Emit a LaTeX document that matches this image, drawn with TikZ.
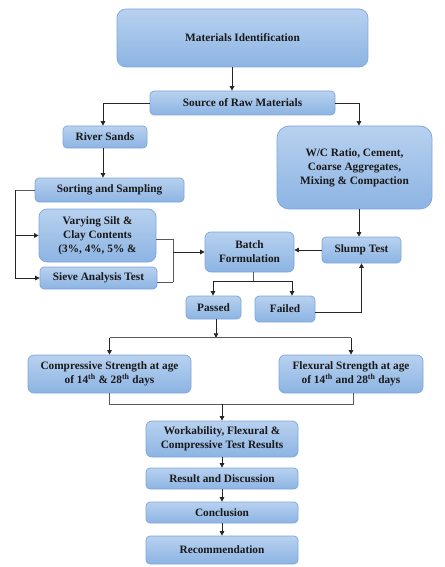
\documentclass[tikz,border=0pt]{standalone}
\usepackage{fontspec}
\setmainfont{Liberation Serif}
\usetikzlibrary{arrows.meta}
\definecolor{bdr}{RGB}{126,166,220}
\definecolor{ftop}{RGB}{184,209,239}
\definecolor{fbot}{RGB}{140,180,227}
\begin{document}
\begin{tikzpicture}[x=1pt,y=-1pt,
  box/.style={draw=bdr, line width=0.7pt, rounded corners=4pt,
    top color=ftop, bottom color=fbot,
    align=center, inner sep=1pt, text=black!90, font=\bfseries\fontsize{11.3}{14}\selectfont},
  arr/.style={-{Triangle[length=4.5pt,width=4.5pt]}, line width=0.8pt, black!85},
  ln/.style={line width=0.8pt, black!65}]
\useasboundingbox (0,0) rectangle (444,567);
\node[box, rounded corners=9pt, minimum width=251pt, minimum height=58pt] (mi) at (242.5,38) {Materials Identification};
\node[box, minimum width=185pt, minimum height=24pt] (src) at (242.5,103) {Source of Raw Materials};
\node[box, minimum width=84pt, minimum height=22pt] (river) at (105,137) {River Sands};
\node[box, rounded corners=12pt, minimum width=155pt, minimum height=83pt] (wc) at (354.5,167.5) {W/C Ratio, Cement,\\Coarse Aggregates,\\Mixing \& Compaction};
\node[box, minimum width=149pt, minimum height=24pt] (sort) at (109.5,190) {Sorting and Sampling};
\node[box, rounded corners=8pt, minimum width=117pt, minimum height=53pt] (vary) at (97.5,235.5) {Varying Silt \&\\Clay Contents\\(3\%, 4\%, 5\% \&};
\node[box, minimum width=117pt, minimum height=22pt] (sieve) at (98.5,278) {Sieve Analysis Test};
\node[box, rounded corners=6pt, minimum width=89pt, minimum height=40pt] (batch) at (249.5,252) {Batch\\Formulation};
\node[box, minimum width=79pt, minimum height=26pt] (slump) at (361.5,250) {Slump Test};
\node[box, minimum width=55pt, minimum height=23pt] (passed) at (213.5,307.5) {Passed};
\node[box, minimum width=60pt, minimum height=26pt] (failed) at (285,309) {Failed};
\node[box, rounded corners=6pt, minimum width=163pt, minimum height=38pt] (comp) at (109.5,374) {Compressive Strength at age\\of 14\textsuperscript{th} \& 28\textsuperscript{th} days};
\node[box, rounded corners=6pt, minimum width=144pt, minimum height=38pt] (flex) at (351,374) {Flexural Strength at age\\of 14\textsuperscript{th} and 28\textsuperscript{th} days};
\node[box, rounded corners=6pt, minimum width=152pt, minimum height=36pt] (work) at (222,439) {Workability, Flexural \&\\Compressive Test Results};
\node[box, minimum width=152pt, minimum height=21pt] (res) at (222,478.5) {Result and Discussion};
\node[box, minimum width=152pt, minimum height=21pt] (conc) at (222,512.5) {Conclusion};
\node[box, minimum width=152pt, minimum height=28pt] (rec) at (222,550) {Recommendation};
% connectors
\draw[arr] ([xshift=-10.5pt]mi.south) -- ([xshift=-10.5pt]mi.south |- src.north);
\draw[arr] (src.west) -| ([xshift=-2pt]river.north);
\draw[arr] (src.east) -| ([xshift=4.5pt]wc.north);
\draw[arr] ([xshift=-2pt]river.south) -- ([xshift=-2pt]river.south |- sort.north);
\draw[ln] (sort.west) -- ++(-19,0) coordinate (lb);
\draw[arr] (lb) |- (sieve.west);
\draw[arr] (lb |- vary.west) -- (vary.west);
\coordinate (rb) at (173,252);
\draw[ln] ([yshift=-3.5pt]vary.east) -| ([yshift=-4pt]rb |- sieve.east);
\draw[ln] ([yshift=-4pt]sieve.east) -- ([yshift=-4pt]rb |- sieve.east);
\draw[arr] (rb) -- (batch.west);
\draw[arr] ([xshift=4.5pt]wc.south) -- ([xshift=4.5pt]wc.south |- slump.north);
\draw[arr] (slump.west) -- (slump.west -| batch.east);
\draw[ln] ([xshift=3.5pt]batch.south) -- ++(0,9) coordinate (bs);
\draw[arr] (bs) -| ([xshift=-0.5pt]passed.north);
\draw[arr] (bs) -| ([xshift=7pt]failed.north);
\draw[arr] ([yshift=-3pt]failed.east) -| (slump.south);
\draw[arr] ([xshift=2.5pt]passed.south) -- ++(0,18.5) coordinate (pj);
\draw[ln] (pj -| comp.north) -- (pj -| flex.north);
\draw[arr] (pj -| comp.north) -- (comp.north);
\draw[arr] (pj -| flex.north) -- (flex.north);
\draw[ln] (comp.south) -- ++(0,11) coordinate (cj) -| ([xshift=2pt]flex.south);
\draw[arr] (cj -| work.north) -- (work.north);
\draw[arr] (work.south) -- (res.north);
\draw[arr] (res.south) -- (conc.north);
\draw[arr] (conc.south) -- (rec.north);
\end{tikzpicture}
\end{document}
